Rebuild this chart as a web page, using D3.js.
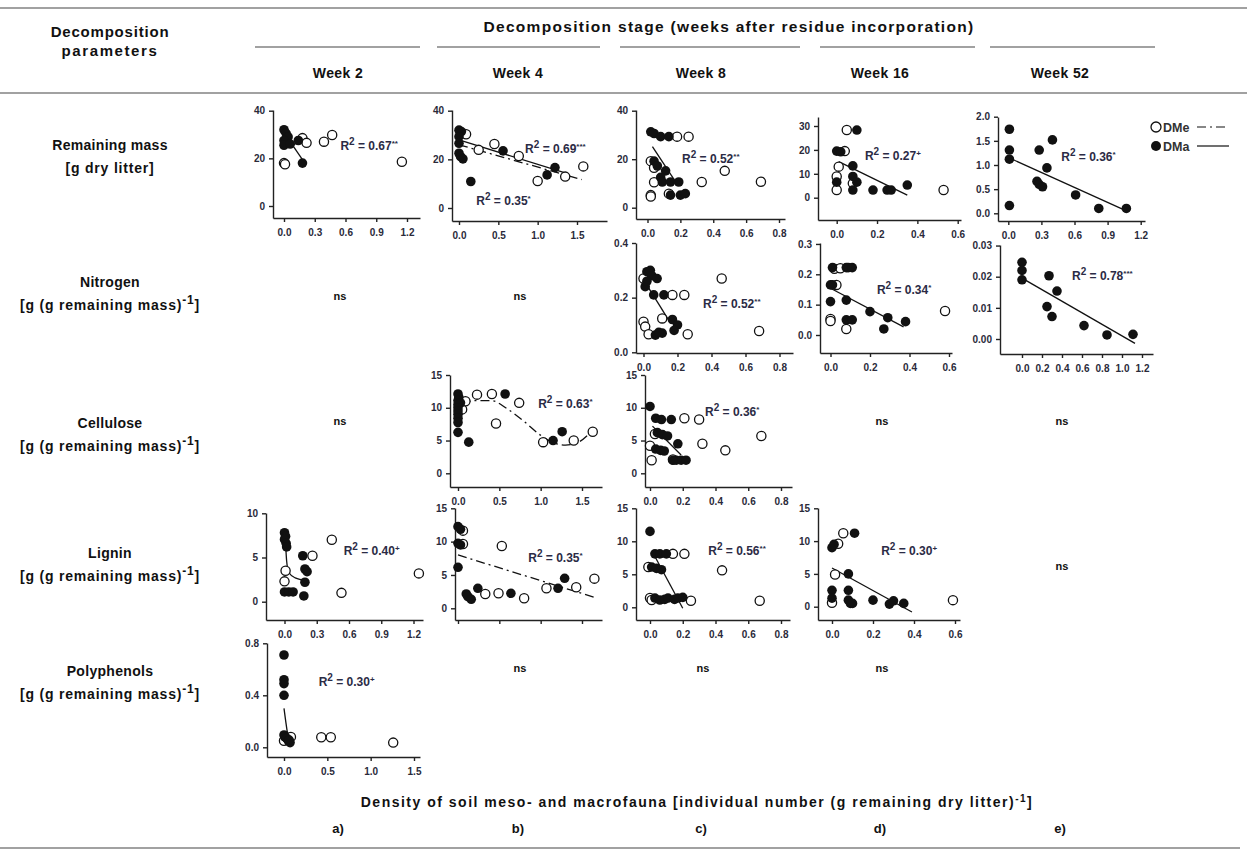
<!DOCTYPE html>
<html>
<head>
<meta charset="utf-8">
<script src="https://cdn.jsdelivr.net/npm/d3@7"></script>
<style>
  body { margin: 0; background: #fff; }
  svg { font-family: "Liberation Sans", Arial, sans-serif; }
  .tick text { font-size: 10px; font-weight: bold; fill: #2a2a3a; }
  .tick line, .domain { stroke: #222; stroke-width: 1.4; }
</style>
</head>
<body>
<script>
// canvas
var w = 1247;
var h = 851;

// column and row headings
var weeks = ["Week 2", "Week 4", "Week 8", "Week 16", "Week 52"];
var panelLetters = ["a)", "b)", "c)", "d)", "e)"];
var rowNames = ["Remaining mass", "Nitrogen", "Cellulose", "Lignin", "Polyphenols"];
var rowUnits = ["[g dry litter]", "[g (g remaining mass)", "[g (g remaining mass)", "[g (g remaining mass)", "[g (g remaining mass)"];

// tick values
var ticks03 = [0, 0.3, 0.6, 0.9, 1.2];
var ticks05 = [0, 0.5, 1, 1.5];
var ticks02 = [0, 0.2, 0.4, 0.6, 0.8];
var ticks02s = [0, 0.2, 0.4, 0.6];
var ticks02l = [0, 0.2, 0.4, 0.6, 0.8, 1.0, 1.2];
var ticksMass = [0, 20, 40];
var ticksMass16 = [0, 10, 20, 30];
var ticksMass52 = [0, 0.5, 1, 1.5, 2];
var ticksN8 = [0, 0.2, 0.4];
var ticksN16 = [0, 0.1, 0.2, 0.3];
var ticksN52 = [0, 0.01, 0.02, 0.03];
var ticks15 = [0, 5, 10, 15];
var ticks10 = [0, 5, 10];
var ticksPoly = [0, 0.4, 0.8];

// remaining mass
var massW2Filled = [[0.0,32],[0.02,30.5],[0.04,29],[0.0,27.5],[0.0,25.5],[0.06,26],[0.14,27.5],[0.18,18]];
var massW2Open = [[0.0,18],[0.01,17.5],[0.18,28.5],[0.22,26.5],[0.39,27],[0.47,29.8],[1.15,18.6]];
var massW2FitMa = [[0.02,29.5],[0.18,19.5]];
var massW2FitMe = [[0.06,24.5],[0.18,28.5]];

var massW4Filled = [[0,32],[0.03,31.4],[0,29.3],[0,26.6],[0,22.5],[0.02,21.1],[0.05,20.2],[0.15,10.9],[0.56,23.5],[1.12,13.6],[1.22,16.6]];
var massW4Open = [[0.09,30.3],[0.25,23.9],[0.45,26.3],[0.76,21.4],[1.0,11.1],[1.35,12.9],[1.58,17.1]];
var massW4FitMa = [[0,28],[1.36,14.3]];
var massW4FitMe = [[0,26],[1.56,11.7]];

var massW8Filled = [[0.02,31.3],[0.04,30.6],[0.08,29.3],[0.13,29.3],[0.04,19.2],[0.06,17.2],[0.11,15.2],[0.08,12.5],[0.09,10.6],[0.14,10.6],[0.19,10.6],[0.14,5.2],[0.2,5.2],[0.23,5.8]];
var massW8Open = [[0.18,29.3],[0.25,29.3],[0.02,19.2],[0.04,16.5],[0.04,10.5],[0.02,5.2],[0.02,4.6],[0.13,5.8],[0.33,10.6],[0.47,15.2],[0.69,10.7]];
var massW8FitMa = [[0.03,25.2],[0.18,9.7]];

var massW16Filled = [[0,19.5],[0.02,19.2],[0.1,28.3],[0.08,13.3],[0.08,8.9],[0.1,6.5],[0,6.5],[0.08,3.2],[0.18,3.2],[0.25,3.2],[0.27,3.2],[0.35,5.3]];
var massW16Open = [[0.05,28.3],[0.04,19.5],[0.01,13],[0,8.9],[0,3.2],[0.08,6],[0.53,3.2]];
var massW16FitMa = [[0.01,15.1],[0.35,1.1]];

var massW52Filled = [[0.01,1.74],[0.01,1.31],[0.01,1.12],[0.01,0.16],[0.28,1.31],[0.40,1.52],[0.35,0.94],[0.26,0.66],[0.28,0.6],[0.31,0.55],[0.61,0.38],[0.82,0.1],[1.07,0.1]];
var massW52FitMa = [[0.015,1.14],[1.05,0.07]];

// nitrogen
var nitroW8Filled = [[0.02,0.295],[0.04,0.3],[0.05,0.28],[0.08,0.27],[0.01,0.24],[0.02,0.26],[0.06,0.21],[0.12,0.21],[0.17,0.12],[0.2,0.1],[0.18,0.08],[0.11,0.07],[0.07,0.063],[0.09,0.073]];
var nitroW8Open = [[0,0.27],[0.17,0.21],[0.24,0.21],[0,0.112],[0.01,0.094],[0.03,0.066],[0.11,0.124],[0.26,0.066],[0.46,0.27],[0.68,0.078]];
var nitroW8FitMa = [[0.02,0.246],[0.16,0.106]];

var nitroW16Filled = [[0.01,0.222],[0.08,0.222],[0.09,0.222],[0.11,0.222],[0,0.165],[0.01,0.165],[0,0.11],[0.08,0.115],[0.08,0.05],[0.11,0.05],[0.2,0.077],[0.29,0.057],[0.27,0.02],[0.38,0.044]];
var nitroW16Open = [[0.02,0.218],[0.05,0.22],[0.03,0.165],[0,0.053],[0,0.046],[0.08,0.02],[0.58,0.079]];
var nitroW16FitMa = [[0,0.154],[0.37,0.027]];

var nitroW52Filled = [[0,0.0246],[0,0.022],[0,0.019],[0.27,0.0203],[0.25,0.0104],[0.3,0.0072],[0.35,0.0154],[0.62,0.0043],[0.85,0.0013],[1.11,0.0015]];
var nitroW52FitMa = [[0.03,0.019],[1.13,-0.0014]];

// cellulose
var celluW4Filled = [[0,12.1],[0.01,11.6],[0,11.1],[0.03,10.75],[0,10.5],[0,10],[0,9.5],[0,9],[0,8.4],[0,7.75],[0,6.25],[0.13,4.75],[0.57,12.1],[1.15,5],[1.26,6.35]];
var celluW4Open = [[0.05,9.75],[0.09,11],[0.23,12],[0.41,12.1],[0.46,7.6],[0.74,10.75],[1.03,4.75],[1.4,5],[1.63,6.35]];
var celluW4FitMe = [[0.05,10.5],[0.2,11.1],[0.4,11.1],[0.6,9.8],[0.8,7.9],[1.0,5.8],[1.15,4.7],[1.3,4.3],[1.45,4.7],[1.6,6.2]];

var celluW8Filled = [[0,10.2],[0.035,8.4],[0.07,8.2],[0.13,8.2],[0.045,6.2],[0.076,5.9],[0.107,5.7],[0.035,3.7],[0.065,3.5],[0.087,3.4],[0.17,4.5],[0.16,2],[0.19,2],[0.22,2],[0.14,2]];
var celluW8Open = [[0,4.2],[0.01,2],[0.03,6],[0.14,2.1],[0.21,8.4],[0.3,8.2],[0.32,4.5],[0.46,3.5],[0.68,5.7]];
var celluW8FitMa = [[0.015,7.2],[0.19,2.8]];

// lignin
var lignW2Filled = [[0,7.8],[0.01,7.4],[0,7.05],[0.015,6.6],[0.02,6.2],[0,1.1],[0.04,1.1],[0.08,1.1],[0.17,5.2],[0.19,3.7],[0.21,3.4],[0.19,2.2],[0.18,0.65]];
var lignW2Open = [[0,2.3],[0.01,3.5],[0.26,5.2],[0.44,7],[0.53,1],[1.25,3.2]];
var lignW2FitMa = [[0.01,6.6],[0.02,4.6],[0.04,3.3],[0.1,2.7],[0.2,2.4]];

var lignW4Filled = [[0,12.25],[0.03,11.85],[0,9.75],[0.03,9.5],[0,6.15],[0.1,2.15],[0.12,1.75],[0.16,1.35],[0.24,3],[0.64,2.25],[1.21,3],[1.29,4.5]];
var lignW4Open = [[0.06,11.65],[0.06,9.65],[0.33,2.15],[0.49,2.25],[0.53,9.35],[0.8,1.5],[1.07,3],[1.43,3.15],[1.65,4.45]];
var lignW4FitMe = [[0,8.0],[1.65,1.65]];

var lignW8Filled = [[0,11.5],[0.03,8.1],[0.06,8.1],[0.1,8.1],[0.01,6.1],[0.04,5.9],[0.07,5.7],[0.03,1.4],[0.06,1.1],[0.09,1.2],[0.11,1.4],[0.15,1.2],[0.17,1.4],[0.2,1.5]];
var lignW8Open = [[-0.01,6.1],[0,1.4],[0.01,1.1],[0.14,8.1],[0.21,8.1],[0.25,1],[0.44,5.6],[0.67,1]];
var lignW8FitMa = [[0.03,7.7],[0.2,-0.15]];

var lignW16Filled = [[0,9],[0.01,9.5],[0.11,11.2],[0.08,5.0],[0,2.5],[0,1.3],[0.08,2.5],[0.08,1],[0.09,0.5],[0.1,0.5],[0.2,1],[0.28,0.4],[0.3,0.9],[0.35,0.5]];
var lignW16Open = [[0.055,11.2],[0.03,9.6],[0.015,4.9],[0,0.6],[0.59,1.0]];
var lignW16FitMa = [[0,5.9],[0.39,-0.8]];

// polyphenols
var polyW2Filled = [[0,0.71],[0,0.52],[0,0.49],[0,0.4],[0,0.095],[0.01,0.08],[0.03,0.07],[0.05,0.05],[0.07,0.036],[0.06,0.056]];
var polyW2Open = [[0,0.05],[0.02,0.08],[0.08,0.08],[0.43,0.077],[0.54,0.077],[1.26,0.036]];
var polyW2FitMa = [[0,0.3],[0.02,0.2],[0.04,0.11],[0.07,0.045]];

// panel layout: box = [left, right, top, bottom]; xRef/yRef = [[value, value], [px, px]]
var panels = [
  { box: [273, 420, 110, 218], xRef: [[0, 1.2], [284, 407]], yRef: [[0, 40], [206, 110.7]], xTicks: ticks03, yTicks: ticksMass, xFmt: ".1f", yFmt: "d",
    filled: massW2Filled, open: massW2Open, fits: [[massW2FitMa, false], [massW2FitMe, true]], r2: [[0.55, 23.5, "0.67", "**"]] },
  { box: [452, 607, 110, 221], xRef: [[0, 1.5], [459, 577]], yRef: [[0, 40], [208, 110.7]], xTicks: ticks05, yTicks: ticksMass, xFmt: ".1f", yFmt: "d",
    filled: massW4Filled, open: massW4Open, fits: [[massW4FitMa, false], [massW4FitMe, true]], r2: [[0.84, 22.5, "0.69", "***"], [0.22, 1.2, "0.35", "*"]] },
  { box: [636, 785, 110, 219], xRef: [[0, 0.8], [647.5, 779]], yRef: [[0, 40], [207.7, 110.7]], xTicks: ticks02, yTicks: ticksMass, xFmt: ".1f", yFmt: "d",
    filled: massW8Filled, open: massW8Open, fits: [[massW8FitMa, false]], r2: [[0.21, 18.3, "0.52", "**"]] },
  { box: [818, 961, 117, 220], xRef: [[0, 0.6], [836.7, 957.7]], yRef: [[0, 30], [197.7, 126]], xTicks: ticks02s, yTicks: ticksMass16, xFmt: ".1f", yFmt: "d",
    filled: massW16Filled, open: massW16Open, fits: [[massW16FitMa, false]], r2: [[0.14, 15.8, "0.27", "+"]] },
  { box: [998, 1145, 117, 221], xRef: [[0, 1.2], [1008.3, 1140.7]], yRef: [[0, 2], [213.3, 116.7]], xTicks: ticks03, yTicks: ticksMass52, xFmt: ".1f", yFmt: ".1f",
    filled: massW52Filled, open: [], fits: [[massW52FitMa, false]], r2: [[0.48, 1.08, "0.36", "*"]] },

  { box: [636, 793, 243, 353], xRef: [[0, 0.8], [643.5, 779.5]], yRef: [[0, 0.4], [352.3, 243]], xTicks: ticks02, yTicks: ticksN8, xFmt: ".1f", yFmt: ".1f",
    filled: nitroW8Filled, open: nitroW8Open, fits: [[nitroW8FitMa, false]], r2: [[0.35, 0.163, "0.52", "**"]] },
  { box: [820, 952, 243, 353], xRef: [[0, 0.6], [830.5, 949]], yRef: [[0, 0.2], [335, 274.3]], xTicks: ticks02s, yTicks: ticksN16, xFmt: ".1f", yFmt: ".1f",
    filled: nitroW16Filled, open: nitroW16Open, fits: [[nitroW16FitMa, false]], r2: [[0.235, 0.134, "0.34", "*"]] },
  { box: [1000, 1153, 245, 354], xRef: [[0, 1.2], [1022, 1142]], yRef: [[0, 0.02], [339, 276.7]], xTicks: ticks02l, yTicks: ticksN52, xFmt: ".1f", yFmt: ".2f",
    filled: nitroW52Filled, open: [], fits: [[nitroW52FitMa, false]], r2: [[0.5, 0.0189, "0.78", "***"]] },

  { box: [450, 602, 375, 487], xRef: [[0, 1.5], [458, 582]], yRef: [[0, 15], [473.3, 375]], xTicks: ticks05, yTicks: ticks15, xFmt: ".1f", yFmt: "d",
    filled: celluW4Filled, open: celluW4Open, fits: [[celluW4FitMe, true]], r2: [[0.97, 9.9, "0.63", "*"]] },
  { box: [645, 792, 375, 487], xRef: [[0, 0.8], [650, 781]], yRef: [[0, 15], [473.3, 375]], xTicks: ticks02, yTicks: ticks15, xFmt: ".1f", yFmt: "d",
    filled: celluW8Filled, open: celluW8Open, fits: [[celluW8FitMa, false]], r2: [[0.336, 8.7, "0.36", "*"]] },

  { box: [266, 423, 513, 620], xRef: [[0, 1.2], [284.5, 413.5]], yRef: [[0, 10], [601.7, 513.3]], xTicks: ticks03, yTicks: ticks10, xFmt: ".1f", yFmt: "d",
    filled: lignW2Filled, open: lignW2Open, fits: [[lignW2FitMa, false]], r2: [[0.55, 5.3, "0.40", "+"]] },
  { box: [455, 602, 508, 620], xRef: [[0, 1.5], [458, 582]], yRef: [[0, 15], [608.3, 508.3]], xTicks: ticks05, yTicks: ticks15, xFmt: ".1f", yFmt: "d", noXLabels: true,
    filled: lignW4Filled, open: lignW4Open, fits: [[lignW4FitMe, true]], r2: [[0.85, 7.0, "0.35", "*"]] },
  { box: [636, 790, 508, 620], xRef: [[0, 0.8], [650, 781]], yRef: [[0, 15], [607.3, 508.3]], xTicks: ticks02, yTicks: ticks15, xFmt: ".1f", yFmt: "d",
    filled: lignW8Filled, open: lignW8Open, fits: [[lignW8FitMa, false]], r2: [[0.356, 7.9, "0.56", "**"]] },
  { box: [818, 960, 508, 620], xRef: [[0, 0.6], [832, 955]], yRef: [[0, 15], [606.7, 508.3]], xTicks: ticks02s, yTicks: ticks15, xFmt: ".1f", yFmt: "d",
    filled: lignW16Filled, open: lignW16Open, fits: [[lignW16FitMa, false]], r2: [[0.24, 7.9, "0.30", "+"]] },

  { box: [267, 420, 643, 757], xRef: [[0, 1.5], [284, 414]], yRef: [[0, 0.8], [747.3, 643.3]], xTicks: ticks05, yTicks: ticksPoly, xFmt: ".1f", yFmt: ".1f",
    filled: polyW2Filled, open: polyW2Open, fits: [[polyW2FitMa, false]], r2: [[0.4, 0.47, "0.30", "+"]] }
];

// "ns" cells: [column, row]
var nsCells = [[0, 1], [1, 1], [0, 2], [3, 2], [4, 2], [4, 3], [1, 4], [2, 4], [3, 4]];
var colCenters = [340, 520, 703, 882, 1062];
var rowCenters = [300, 300, 425, 570, 672];

var svg = d3.select("body")
    .append("svg")
    .attr("width", w)
    .attr("height", h);

// frame lines
svg.append("line").attr("x1", 0).attr("x2", w).attr("y1", 8).attr("y2", 8).attr("stroke", "#444").attr("stroke-width", 1.2);
svg.append("line").attr("x1", 0).attr("x2", w).attr("y1", 93).attr("y2", 93).attr("stroke", "#444").attr("stroke-width", 1.2);
svg.append("line").attr("x1", 0).attr("x2", 1240).attr("y1", 848).attr("y2", 848).attr("stroke", "#444").attr("stroke-width", 1.2);

var segs = [[255, 420], [437, 600], [620, 800], [820, 975], [990, 1155]];
segs.forEach(function(s) {
    svg.append("line").attr("x1", s[0]).attr("x2", s[1]).attr("y1", 47).attr("y2", 47)
        .attr("stroke", "#444").attr("stroke-width", 1.2);
});

function boldText(x, y, size, str, spacing) {
    return svg.append("text")
        .attr("x", x).attr("y", y)
        .attr("font-size", size)
        .attr("font-weight", "bold")
        .attr("fill", "#111")
        .attr("letter-spacing", spacing || 0)
        .attr("text-anchor", "middle")
        .text(str);
}

boldText(110, 37, 15, "Decomposition", 0.8);
boldText(110, 56, 15, "parameters", 1.6);
boldText(729, 32, 15.5, "Decomposition stage (weeks after residue incorporation)", 1.3);
weeks.forEach(function(d, i) {
    boldText(colCenters[i] - 2, 78, 14, d, 0.4);
});

// row labels
var rowTitleY = [150, 287, 428, 558, 676];
rowNames.forEach(function(d, i) {
    boldText(110, rowTitleY[i], 14, d, 0.3);
    var t = boldText(110, rowTitleY[i] + 23, 14, rowUnits[i], 0.8);
    if (i > 0) {
        t.append("tspan").attr("dy", -6).attr("font-size", 12).text("-1");
        t.append("tspan").attr("dy", 6).text("]");
    }
});

nsCells.forEach(function(c) {
    boldText(colCenters[c[0]], rowCenters[c[1]], 11, "ns");
});

var xt = boldText(697, 807, 14, "Density of soil meso- and macrofauna [individual number (g remaining dry litter)", 1.5);
xt.append("tspan").attr("dy", -5).attr("font-size", 10).text("-1");
xt.append("tspan").attr("dy", 5).text("]");

panelLetters.forEach(function(d, i) {
    boldText(colCenters[i] - 2, 833, 13, d);
});

// legend
var legend = svg.append("g");
legend.append("circle").attr("cx", 1156).attr("cy", 127).attr("r", 5).attr("fill", "#fff").attr("stroke", "#111").attr("stroke-width", 1.3);
legend.append("circle").attr("cx", 1156).attr("cy", 146).attr("r", 5).attr("fill", "#111");
legend.append("text").attr("x", 1163).attr("y", 132).attr("font-size", 12.5).attr("font-weight", "bold").attr("fill", "#333").text("DMe");
legend.append("text").attr("x", 1163).attr("y", 151).attr("font-size", 12.5).attr("font-weight", "bold").attr("fill", "#333").text("DMa");
legend.append("line").attr("x1", 1197).attr("x2", 1229).attr("y1", 127).attr("y2", 127).attr("stroke", "#111").attr("stroke-width", 1.2).attr("stroke-dasharray", "9,4,2,4");
legend.append("line").attr("x1", 1197).attr("x2", 1229).attr("y1", 146).attr("y2", 146).attr("stroke", "#111").attr("stroke-width", 1.2);

// panels
panels.forEach(function(p) {
    var L = p.box[0], R = p.box[1], T = p.box[2], B = p.box[3];
    var xBase = d3.scaleLinear().domain(p.xRef[0]).range(p.xRef[1]);
    var yBase = d3.scaleLinear().domain(p.yRef[0]).range(p.yRef[1]);
    var xScale = d3.scaleLinear().domain([xBase.invert(L), xBase.invert(R)]).range([L, R]);
    var yScale = d3.scaleLinear().domain([yBase.invert(B), yBase.invert(T)]).range([B, T]);

    var g = svg.append("g");

    var xAxis = d3.axisBottom(xScale)
        .tickValues(p.xTicks)
        .tickFormat(p.noXLabels ? function() { return ""; } : d3.format(p.xFmt))
        .tickSize(4)
        .tickSizeOuter(0)
        .tickPadding(7);
    g.append("g").attr("transform", "translate(0," + B + ")").call(xAxis);

    var yAxis = d3.axisLeft(yScale)
        .tickValues(p.yTicks)
        .tickFormat(d3.format(p.yFmt))
        .tickSize(4)
        .tickSizeOuter(0)
        .tickPadding(4);
    g.append("g").attr("transform", "translate(" + L + ",0)").call(yAxis);
    g.selectAll(".domain").attr("stroke", "#222").attr("stroke-width", 1.4);

    // fitted lines
    var line = d3.line()
        .x(function(d) { return xScale(d[0]); })
        .y(function(d) { return yScale(d[1]); })
        .curve(d3.curveMonotoneX);
    p.fits.forEach(function(f) {
        g.append("path")
            .datum(f[0])
            .attr("d", line)
            .attr("fill", "none")
            .attr("stroke", "#111")
            .attr("stroke-width", 1.3)
            .attr("stroke-dasharray", f[1] ? "9,4,2,4" : null);
    });

    // open circles (DMe) then filled (DMa)
    g.selectAll(".open")
        .data(p.open)
        .enter()
        .append("circle")
        .attr("cx", function(d) { return xScale(d[0]); })
        .attr("cy", function(d) { return yScale(d[1]); })
        .attr("r", 4.6)
        .attr("fill", "#fff")
        .attr("stroke", "#111")
        .attr("stroke-width", 1.3);

    g.selectAll(".filled")
        .data(p.filled)
        .enter()
        .append("circle")
        .attr("cx", function(d) { return xScale(d[0]); })
        .attr("cy", function(d) { return yScale(d[1]); })
        .attr("r", 4.8)
        .attr("fill", "#111");

    // R² labels
    p.r2.forEach(function(r) {
        var t = g.append("text")
            .attr("x", xScale(r[0]))
            .attr("y", yScale(r[1]))
            .attr("font-size", 12)
            .attr("font-weight", "bold")
            .attr("fill", "#2b2b45");
        t.append("tspan").text("R");
        t.append("tspan").attr("dy", -5).attr("font-size", 10).text("2");
        t.append("tspan").attr("dy", 5).text(" = " + r[2]);
        t.append("tspan").attr("dy", -4).attr("font-size", 8).text(r[3]);
    });
});
</script>
</body>
</html>
